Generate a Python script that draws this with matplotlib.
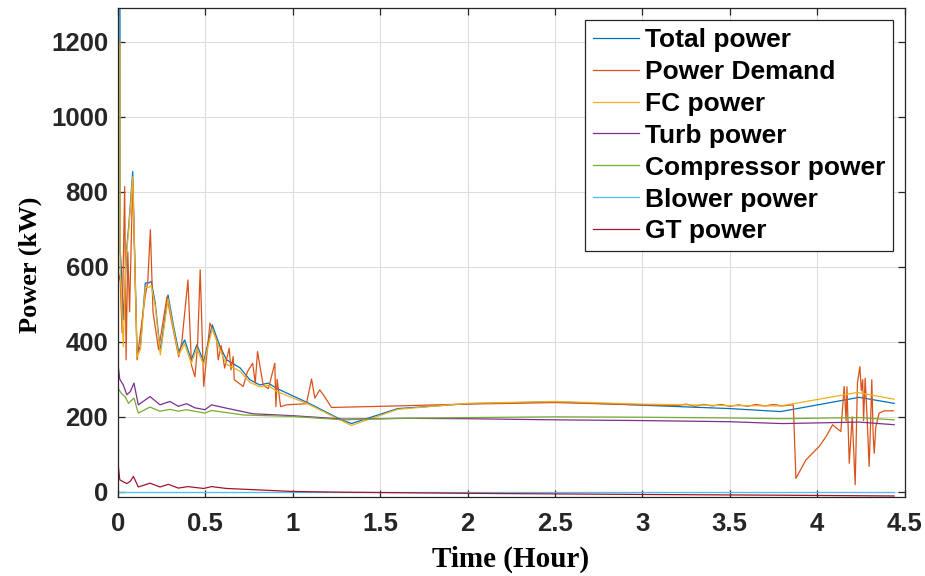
import numpy as np
import matplotlib
matplotlib.use("Agg")
import matplotlib.pyplot as plt

# --- data (time in hours, power in kW) ---
total_t = [0.011, 0.012, 0.016, 0.032, 0.05, 0.061, 0.084, 0.109, 0.128, 0.156, 0.175, 0.19,
           0.213, 0.242, 0.286, 0.318, 0.347, 0.381, 0.419, 0.451, 0.49, 0.539, 0.583,
           0.621, 0.697, 0.754, 0.811, 0.859, 0.907, 1.097, 1.269, 1.335, 1.6, 2.0, 2.5,
           3.0, 3.5, 3.79, 4.24, 4.44]
total_p = [1300, 640, 619, 459, 653, 707, 854, 370, 387, 557, 557, 561,
           503, 374, 525, 441, 374, 405, 352, 392, 347, 445, 388,
           352, 331, 299, 285, 290, 276, 235, 194, 182, 222, 235, 240,
           231, 222, 214, 252, 236]

fc_t = [0.011, 0.012, 0.016, 0.03, 0.045, 0.06, 0.084, 0.109, 0.128, 0.156, 0.175, 0.19,
        0.213, 0.242, 0.286, 0.318, 0.347, 0.381, 0.419, 0.451, 0.49, 0.539, 0.583,
        0.621, 0.697, 0.754, 0.811, 0.859, 0.907, 1.097, 1.269, 1.335, 1.6, 2.0, 2.5,
        3.0, 3.5, 3.79, 4.23, 4.44]
fc_p = [1200, 600, 560, 387, 620, 690, 840, 360, 380, 545, 545, 550,
        495, 365, 515, 432, 365, 395, 342, 383, 338, 435, 378,
        340, 322, 292, 280, 284, 268, 232, 192, 177, 220, 236, 241,
        234, 230, 229, 265, 247]

demand_t = [0.003, 0.013, 0.023, 0.038, 0.046, 0.056, 0.066, 0.084, 0.109, 0.13, 0.155,
            0.17, 0.185, 0.2, 0.232, 0.28, 0.3, 0.347, 0.365, 0.4, 0.42, 0.44, 0.455,
            0.47, 0.49, 0.526, 0.564, 0.573, 0.59, 0.61, 0.636, 0.646, 0.659, 0.665,
            0.716, 0.74, 0.77, 0.785, 0.798, 0.83, 0.86, 0.897, 0.903, 0.91, 0.93, 0.964,
            1.078, 1.107, 1.126, 1.154, 1.18, 1.221, 1.5, 2.0, 2.5, 3.0, 3.2, 3.25, 3.3,
            3.35, 3.4, 3.45, 3.5, 3.55, 3.6, 3.65, 3.7, 3.75, 3.8, 3.863, 3.878, 3.935,
            3.973, 4.011, 4.05, 4.088, 4.11, 4.135, 4.154, 4.165, 4.17, 4.183, 4.2, 4.217,
            4.23, 4.244, 4.252, 4.26, 4.265, 4.274, 4.285, 4.297, 4.305, 4.312, 4.32,
            4.326, 4.335, 4.354, 4.383, 4.436]
demand_p = [584, 560, 424, 814, 352, 640, 480, 832, 352, 430, 520,
            560, 699, 480, 379, 520, 470, 360, 400, 565, 338, 307, 390,
            592, 281, 450, 405, 352, 390, 330, 383, 325, 361, 299,
            281, 320, 343, 290, 374, 285, 275, 343, 227, 300, 227, 232,
            235, 301, 250, 272, 255, 225, 228, 234, 238, 232, 230, 234, 228,
            233, 229, 233, 228, 232, 228, 233, 229, 233, 229, 232, 36, 85,
            103, 121, 147, 179, 170, 161, 281, 190, 280, 76, 200, 19,
            290, 334, 270, 299, 190, 303, 200, 68, 180, 299, 150,
            103, 174, 210, 216, 216]

turb_t = [0, 0.01, 0.03, 0.05, 0.07, 0.091, 0.116, 0.183, 0.24, 0.297, 0.345, 0.392,
          0.44, 0.497, 0.535, 0.621, 0.773, 0.87, 1.0, 1.29, 1.67, 2.0, 2.5, 3.0, 3.5,
          3.8, 4.24, 4.44]
turb_p = [340, 300, 285, 259, 267, 290, 232, 254, 232, 241, 228, 235,
          224, 219, 232, 223, 208, 206, 203, 194, 196, 195, 192, 190, 187,
          182, 186, 179]

comp_t = [0, 0.02, 0.04, 0.06, 0.091, 0.116, 0.183, 0.24, 0.297, 0.345, 0.39, 0.497,
          0.535, 0.716, 1.0, 1.29, 1.6, 2.0, 2.5, 3.0, 3.5, 3.8, 4.24, 4.44]
comp_p = [276, 262, 254, 236, 250, 210, 226, 215, 220, 215, 219, 210,
          217, 205, 201, 192, 196, 198, 200, 199, 197, 195, 198, 192]

blower_t = [0, 4.44]
blower_p = [-1, -1]

gt_t = [0, 0.01, 0.03, 0.05, 0.07, 0.088, 0.116, 0.183, 0.24, 0.288, 0.345, 0.4, 0.49,
        0.535, 0.62, 0.81, 1.0, 1.3, 2.0, 3.0, 3.8, 4.44]
gt_p = [76, 32, 27, 22, 28, 41, 13, 23, 13, 20, 10, 14, 9,
        14, 9, 5, 1, -1, -4, -7, -9, -11]

x_ticks = [0, 0.5, 1, 1.5, 2, 2.5, 3, 3.5, 4, 4.5]
x_tick_labels = ["0", "0.5", "1", "1.5", "2", "2.5", "3", "3.5", "4", "4.5"]
y_ticks = [0, 200, 400, 600, 800, 1000, 1200]

series = [
    ("Total power", total_t, total_p, "#0072BD"),
    ("Power Demand", demand_t, demand_p, "#D95319"),
    ("FC power", fc_t, fc_p, "#EDB120"),
    ("Turb power", turb_t, turb_p, "#7E2F8E"),
    ("Compressor power", comp_t, comp_p, "#77AC30"),
    ("Blower power", blower_t, blower_p, "#4DBEEE"),
    ("GT power", gt_t, gt_p, "#A2142F"),
]


def main():
    fig = plt.figure(figsize=(9.25, 5.76), dpi=100)
    ax = fig.add_axes([0.1276, 0.137, 0.8504, 0.849])

    for label, t, p, color in series:
        ax.plot(t, p, color=color, lw=0.9, label=label)

    ax.set_xlim(0, 4.5)
    ax.set_ylim(-14, 1290)
    ax.set_xticks(x_ticks)
    ax.set_xticklabels(x_tick_labels)
    ax.set_yticks(y_ticks)

    ax.grid(True, color="#dcdcdc", lw=0.8)
    ax.set_axisbelow(True)
    for sp in ax.spines.values():
        sp.set_color("#262626")
        sp.set_linewidth(0.9)

    ax.tick_params(direction="in", length=5, width=0.9, top=True, right=True,
                   color="#262626")
    ax.tick_params(axis="y", pad=7)
    ax.tick_params(axis="x", pad=11)
    for lab in ax.get_xticklabels() + ax.get_yticklabels():
        lab.set_fontfamily("Liberation Sans")
        lab.set_fontweight("bold")
        lab.set_fontsize(18.5)
        lab.set_color("#262626")

    ax.set_xlabel("Time (Hour)", fontfamily="Liberation Serif", fontweight="bold",
                  fontsize=21)
    ax.set_ylabel("Power (kW)", fontfamily="Liberation Serif", fontweight="bold",
                  fontsize=19)
    ax.xaxis.set_label_coords(0.4994, -0.100)
    ax.yaxis.set_label_coords(-0.0966, 0.476)

    leg = ax.legend(loc="upper right", bbox_to_anchor=(893 / 925, 1 - 20 / 576),
                    bbox_transform=fig.transFigure, borderaxespad=0,
                    prop={"family": "Liberation Sans", "weight": "bold", "size": 19},
                    handlelength=1.75, handletextpad=0.2, labelspacing=0.3,
                    borderpad=0.3, fancybox=False, framealpha=1)
    leg.get_frame().set_edgecolor("#262626")
    leg.get_frame().set_linewidth(0.9)

    fig.savefig("out.png", dpi=100)
    plt.close(fig)


if __name__ == "__main__":
    main()
